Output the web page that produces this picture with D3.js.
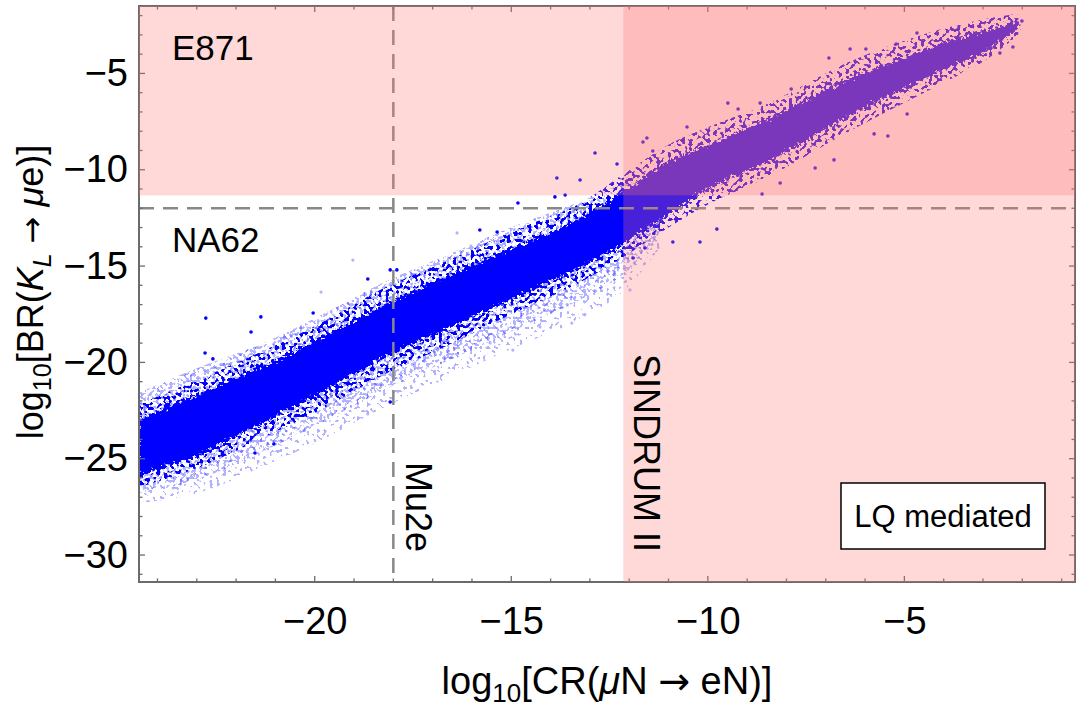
<!DOCTYPE html>
<html>
<head>
<meta charset="utf-8">
<script src="https://cdn.jsdelivr.net/npm/d3@7"></script>
<style>
  html, body { margin: 0; padding: 0; background: #fff; }
  svg { display: block; font-family: "Liberation Sans", Arial, Helvetica, sans-serif; }
  .arw { font-family: "DejaVu Sans", sans-serif; }
</style>
</head>
<body>
<svg id="chart" width="1084" height="712"></svg>
<script>
// ---- data (log10 units) ----
// dense band of scan points: x positions and upper/lower edges
const bandX  = [-24.5, -23.0, -21.2, -19.7, -18.3, -16.6, -15.0, -13.3, -12.2, -11.0, -10.0, -8.4, -6.4, -4.4, -3.0, -2.1];
const coreHi = [-23.0, -21.7, -20.1, -18.6, -17.1, -15.5, -14.1, -12.6, -11.2, -9.6, -8.7, -7.3, -5.3, -3.7, -2.8, -2.3];
const coreLo = [-25.9, -24.8, -23.0, -21.4, -19.8, -18.2, -16.7, -15.1, -13.9, -12.3, -11.0, -9.5, -7.2, -5.2, -3.9, -2.7];
// looser scatter of solid points round the core
const haloHi = [-22.2, -20.9, -19.3, -17.8, -16.2, -14.7, -13.2, -11.8, -10.3, -8.7, -7.8, -6.5, -4.4, -2.9, -2.2, -1.9];
const haloLo = [-26.5, -25.5, -23.8, -22.3, -20.7, -19.1, -17.5, -15.9, -14.6, -13.0, -11.8, -10.3, -8.0, -5.9, -4.4, -3.0];
// faint (transparent) points, mostly below the band: inner (denser) and outer reach
const fringeX    = [-24.5, -23.0, -21.2, -19.7, -18.3, -16.6, -15.0, -13.3, -12.2, -11.2];
const fringeHi   = [-21.6, -20.3, -18.9, -17.4, -15.9, -14.4, -13.0, -11.7, -10.8, -10.6];
const fringeMid  = [-26.8, -26.1, -24.5, -23.0, -21.5, -19.9, -18.4, -16.8, -15.5, -13.5];
const fringeLo   = [-27.3, -26.8, -25.3, -23.9, -22.4, -20.8, -19.3, -17.8, -16.4, -14.0];

// isolated points
const outX = [-22.77, -22.79, -22.59, -21.62, -21.37, -20.04, -21.52, -21.04, -18.08, -18.65, -18.08, -15.80, -15.36, -14.83, -13.89, -13.63, -17.91,
              -12.87, -12.31, -13.84, -13.25, -9.77, -10.20, -10.89, -11.60, -11.90,
              -6.38, -5.98, -6.92, -7.88, -9.49, -8.67, -9.23, -10.53, -11.55, -11.65, -11.40, -5.77, -5.42, -8.62, -8.16, -7.27, -6.79,
              -2.01, -2.24, -2.57, -4.68, -5.21, -4.93];
const outY = [-17.70, -19.51, -19.82, -18.42, -17.64, -17.44, -24.70, -24.24, -22.06, -15.67, -15.20, -13.13, -13.23, -11.73, -11.41, -11.31, -15.20,
              -9.13, -9.70, -10.43, -10.53, -13.08, -13.75, -13.75, -14.06, -14.58,
              -3.73, -3.73, -4.20, -5.81, -6.54, -6.54, -6.85, -7.78, -8.35, -8.56, -9.03, -8.14, -8.25, -11.26, -10.69, -9.91, -9.49,
              -2.28, -3.63, -3.94, -2.90, -3.47, -7.11];
const faintX = [-23.60, -18.65, -13.46, -14.96, -16.38, -11.98, -19.03, -19.84, -14.27, -15.54];
const faintY = [-26.52, -22.68, -17.96, -19.36, -13.28, -16.24, -14.69, -16.35, -18.16, -18.99];

// experimental limits
const limitNames  = ["E871", "NA62", "Mu2e", "SINDRUM II"];
const limitValues = [-11.33, -12, -18, -12.15];

const xTicks = [-20, -15, -10, -5];
const yTicks = [-30, -25, -20, -15, -10, -5];
const xDomain = [-24.47, -0.66];
const yDomain = [-31.4, -1.5];

// ---- layout ----
const svg = d3.select("#chart");
const pL = 139, pR = 1075, pT = 6, pB = 582;
const x = d3.scaleLinear(xDomain, [pL, pR]);
const y = d3.scaleLinear(yDomain, [pB, pT]);

const defs = svg.append("defs");
defs.append("clipPath").attr("id", "plotclip")
    .append("rect").attr("x", pL).attr("y", pT).attr("width", pR - pL).attr("height", pB - pT);

// ragged edge for the solid core
const rough = defs.append("filter").attr("id", "rough")
    .attr("x", "-5%").attr("y", "-5%").attr("width", "110%").attr("height", "110%");
rough.append("feTurbulence").attr("type", "fractalNoise").attr("baseFrequency", 0.3)
     .attr("numOctaves", 2).attr("seed", 4).attr("result", "n");
rough.append("feDisplacementMap").attr("in", "SourceGraphic").attr("in2", "n")
     .attr("scale", 12).attr("xChannelSelector", "R").attr("yChannelSelector", "G");

// dotty texture for the scattered parts
function speckle(id, thresh, freq, seed) {
    const f = defs.append("filter").attr("id", id)
        .attr("color-interpolation-filters", "sRGB")
        .attr("x", "-5%").attr("y", "-5%").attr("width", "110%").attr("height", "110%");
    f.append("feTurbulence").attr("type", "fractalNoise").attr("baseFrequency", freq)
     .attr("numOctaves", 1).attr("seed", seed).attr("result", "n");
    f.append("feColorMatrix").attr("in", "n").attr("type", "matrix")
     .attr("values", `0 0 0 0 0  0 0 0 0 0  0 0 0 0 0  30 0 0 0 ${-30 * thresh}`)
     .attr("result", "m");
    f.append("feComposite").attr("in", "SourceGraphic").attr("in2", "m").attr("operator", "in");
}
speckle("outer", 0.6, 0.3, 3);
speckle("sparse", 0.54, 0.3, 7);
speckle("dense", 0.54, 0.28, 11);

const plot = svg.append("g").attr("clip-path", "url(#plotclip)");

const band = (xs, hi, lo) => d3.area()
    .x((d, i) => x(xs[i]))
    .y0((d, i) => y(lo[i]))
    .y1((d, i) => y(hi[i]))
    .curve(d3.curveCatmullRom)(xs);

plot.append("path").attr("d", band(fringeX, fringeHi, fringeLo))
    .attr("fill", "#0000ff").attr("opacity", 0.3).attr("filter", "url(#outer)");
plot.append("path").attr("d", band(fringeX, fringeHi, fringeMid))
    .attr("fill", "#0000ff").attr("opacity", 0.3).attr("filter", "url(#sparse)");
plot.append("path").attr("d", band(bandX, haloHi, haloLo))
    .attr("fill", "#0000ff").attr("filter", "url(#dense)");
plot.append("path").attr("d", band(bandX, coreHi, coreLo))
    .attr("fill", "#0000ff").attr("filter", "url(#rough)");

plot.append("g").selectAll("circle").data(d3.range(faintX.length)).join("circle")
    .attr("cx", i => x(faintX[i])).attr("cy", i => y(faintY[i])).attr("r", 1.6)
    .attr("fill", "#0000ff").attr("fill-opacity", 0.3);
plot.append("g").selectAll("circle").data(d3.range(outX.length)).join("circle")
    .attr("cx", i => x(outX[i])).attr("cy", i => y(outY[i])).attr("r", 1.8)
    .attr("fill", "#0000ff");

// dashed future sensitivities
plot.append("line")
    .attr("x1", pL).attr("x2", pR).attr("y1", y(limitValues[1])).attr("y2", y(limitValues[1]))
    .attr("stroke", "#888").attr("stroke-width", 2.5).attr("stroke-dasharray", "15,9");
plot.append("line")
    .attr("x1", x(limitValues[2])).attr("x2", x(limitValues[2])).attr("y1", pT).attr("y2", pB)
    .attr("stroke", "#888").attr("stroke-width", 2.5).attr("stroke-dasharray", "15,9");

// frame and ticks
const frameCol = "#6b6b6b";
svg.append("rect").attr("x", pL).attr("y", pT).attr("width", pR - pL).attr("height", pB - pT)
    .attr("fill", "none").attr("stroke", frameCol).attr("stroke-width", 2);

const xMinor = d3.range(Math.ceil(xDomain[0]), xDomain[1], 1);
const yMinor = d3.range(Math.ceil(yDomain[0]), yDomain[1], 1);
const tickLen = v => (v % 5 === 0 ? 6 : 3.5);
const ticks = svg.append("g").attr("stroke", frameCol).attr("stroke-width", 1.3);
xMinor.forEach(v => {
    ticks.append("line").attr("x1", x(v)).attr("x2", x(v)).attr("y1", pB).attr("y2", pB - tickLen(v));
    ticks.append("line").attr("x1", x(v)).attr("x2", x(v)).attr("y1", pT).attr("y2", pT + tickLen(v));
});
yMinor.forEach(v => {
    ticks.append("line").attr("y1", y(v)).attr("y2", y(v)).attr("x1", pL).attr("x2", pL + tickLen(v));
    ticks.append("line").attr("y1", y(v)).attr("y2", y(v)).attr("x1", pR).attr("x2", pR - tickLen(v));
});

// tick labels through d3 axes
const fmt = d3.format("d");
svg.append("g").attr("transform", `translate(0,${pB})`)
    .call(d3.axisBottom(x).tickValues(xTicks).tickSize(0).tickPadding(25).tickFormat(fmt))
    .call(g => g.select(".domain").remove())
    .call(g => g.selectAll("text").attr("font-size", 38).attr("fill", "#000"))
    .attr("font-family", null).attr("font-size", null);
svg.append("g").attr("transform", `translate(${pL},0)`)
    .call(d3.axisLeft(y).tickValues(yTicks).tickSize(0).tickPadding(11).tickFormat(fmt))
    .call(g => g.select(".domain").remove())
    .call(g => g.selectAll("text").attr("font-size", 38).attr("fill", "#000"))
    .attr("font-family", null).attr("font-size", null);

// excluded regions, laid semi-transparently over everything
const shade = svg.append("g").attr("fill", "rgb(255,115,115)").attr("fill-opacity", 0.28);
shade.append("rect").attr("x", pL).attr("y", pT)
    .attr("width", pR - pL).attr("height", y(limitValues[0]) - pT);
shade.append("rect").attr("x", x(limitValues[3])).attr("y", pT)
    .attr("width", pR - x(limitValues[3])).attr("height", pB - pT);

// labels
const lab = svg.append("g").attr("font-size", 35).attr("fill", "#000");
lab.append("text").attr("x", 172).attr("y", 60).text(limitNames[0]);
lab.append("text").attr("x", 172).attr("y", 252).text(limitNames[1]);
lab.append("text").attr("transform", `translate(${x(limitValues[2]) + 13},462) rotate(90)`)
    .attr("font-size", 36).text(limitNames[2]);
lab.append("text").attr("transform", `translate(${x(limitValues[3]) + 11},354) rotate(90)`)
    .attr("font-size", 36).text(limitNames[3]);

svg.append("rect").attr("x", 841).attr("y", 483).attr("width", 204).attr("height", 66)
    .attr("fill", "#fff").attr("stroke", "#000").attr("stroke-width", 1.5);
svg.append("text").attr("x", 943).attr("y", 527).attr("text-anchor", "middle")
    .attr("font-size", 31).text("LQ mediated");

// axis titles
const xt = svg.append("text").attr("x", 607).attr("y", 694).attr("text-anchor", "middle").attr("font-size", 38);
xt.append("tspan").text("log");
xt.append("tspan").attr("font-size", 26).attr("dy", 8).text("10");
xt.append("tspan").attr("dy", -8).text("[CR(");
xt.append("tspan").attr("font-style", "italic").text("μ");
xt.append("tspan").text("N ");
xt.append("tspan").attr("class", "arw").attr("font-size", 38).text("→");
xt.append("tspan").text(" eN)]");

const yt = svg.append("text").attr("transform", "translate(43,292) rotate(-90)")
    .attr("text-anchor", "middle").attr("font-size", 36);
yt.append("tspan").text("log");
yt.append("tspan").attr("font-size", 25).attr("dy", 8).text("10");
yt.append("tspan").attr("dy", -8).text("[BR(");
yt.append("tspan").attr("font-style", "italic").text("K");
yt.append("tspan").attr("font-size", 25).attr("font-style", "italic").attr("dy", 8).text("L");
yt.append("tspan").attr("dy", -8).text(" ");
yt.append("tspan").attr("class", "arw").attr("font-size", 32).text("→");
yt.append("tspan").text(" ");
yt.append("tspan").attr("font-style", "italic").text("μ");
yt.append("tspan").text("e)]");
</script>
</body>
</html>
